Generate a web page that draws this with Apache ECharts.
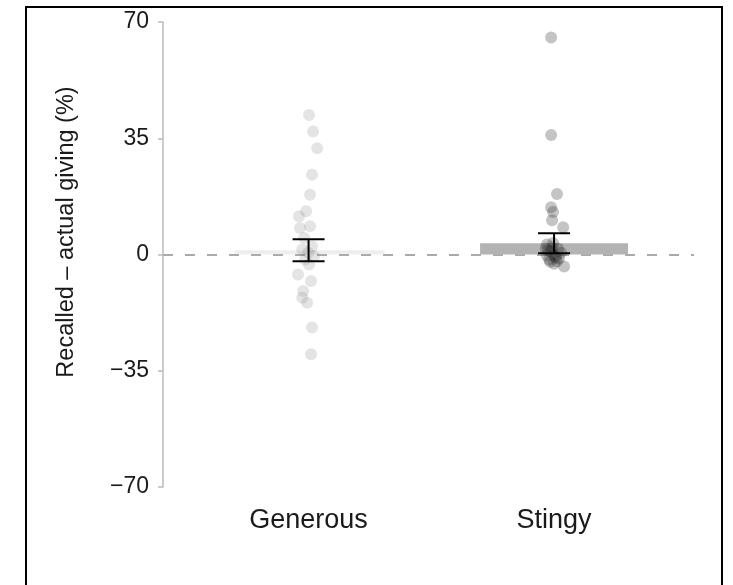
<!DOCTYPE html>
<html>
<head>
<meta charset="utf-8">
<script src="https://cdn.jsdelivr.net/npm/echarts@6/dist/echarts.min.js"></script>
<style>
  html, body { margin: 0; padding: 0; background: #fff; }
  #main { width: 733px; height: 585px; }
</style>
</head>
<body>
<div id="main"></div>
<script>
// ---------- data
var categories = ["Generous", "Stingy"];
var categoryPos = [1, 2];
var meanValues = [1.3, 3.4];
var seValues = [3.3, 3.0];
var yTicks = [-70, -35, 0, 35, 70];

// [x (with jitter), recalled - actual]
var generousPoints = [
  [1.002, 42], [1.018, 37], [1.035, 32], [1.014, 24], [1.006, 18],
  [0.990, 13], [0.961, 11.5], [0.965, 8], [1.006, 8.5], [0.982, 5],
  [1.014, 2.5], [0.974, 1.5], [0.998, 0.5], [1.022, -0.5], [0.986, -1.5],
  [1.002, -3], [0.957, -6], [1.010, -8], [0.978, -11], [0.974, -13],
  [0.994, -14.5], [1.014, -22], [1.010, -30]
];
var stingyPoints = [
  [1.988, 65.3], [1.988, 36], [2.012, 18.2], [1.988, 14.2], [1.996, 12.8],
  [1.992, 10.3], [2.037, 8.2], [1.971, 3], [1.996, 3.5], [2.016, 1.8],
  [2.028, 0.5], [1.971, -0.3], [2.004, -0.5], [1.988, 1], [1.984, -2.2],
  [2.012, -2], [2.041, -3.6], [1.996, 0], [2.008, -1], [1.980, -1.5],
  [1.992, 2], [2.000, -2.8], [1.976, 1.2], [2.020, -1.2], [1.966, 1.8]
];

onload = function () {
  var myChart = echarts.init(document.getElementById("main"));
  var font = "Liberation Sans, Arial, sans-serif";

  var barData = categoryPos.map(function (x, i) {
    return [x, meanValues[i]];
  });
  var errData = categoryPos.map(function (x, i) {
    return [x, meanValues[i] - seValues[i], meanValues[i] + seValues[i]];
  });

  var option = {
    animation: false,
    grid: { left: 163, right: 39, top: 22, bottom: 98 },
    xAxis: {
      type: "value",
      min: 0.407,
      max: 2.57,
      splitLine: { show: false },
      axisLine: { show: false },
      axisTick: { show: false },
      axisLabel: {
        customValues: categoryPos,
        formatter: function (v) {
          var i = categoryPos.indexOf(v);
          return i >= 0 ? categories[i] : "";
        },
        color: "#1a1a1a",
        fontSize: 27,
        fontFamily: font,
        margin: 20,
      },
    },
    yAxis: {
      type: "value",
      min: -70,
      max: 70,
      interval: 35,
      data: yTicks,
      splitLine: { show: false },
      axisLine: { show: true, lineStyle: { color: "#bbb", width: 1.5 } },
      axisTick: { show: true, length: 5, lineStyle: { color: "#bbb", width: 1.5 } },
      axisLabel: {
        color: "#1a1a1a",
        fontSize: 23,
        fontFamily: font,
        margin: 14,
        formatter: function (v) {
          return v < 0 ? "\u2212" + Math.abs(v) : String(v);
        },
      },
    },
    graphic: [
      {
        type: "rect",
        shape: { x: 26, y: 7, width: 696, height: 600 },
        style: { fill: "none", stroke: "#000", lineWidth: 2 },
        silent: true,
      },
      {
        type: "text",
        x: 67,
        y: 232,
        rotation: Math.PI / 2,
        style: {
          text: "Recalled \u2013 actual giving (%)",
          fill: "#1a1a1a",
          font: "23.5px " + font,
          align: "center",
          verticalAlign: "middle",
        },
        silent: true,
      },
    ],
    series: [
      {
        type: "bar",
        data: [barData[0]],
        barWidth: 150,
        itemStyle: { color: "rgba(200,200,200,0.3)" },
        z: 3,
        markLine: {
          silent: true,
          symbol: "none",
          label: { show: false },
          lineStyle: { color: "#aaa", width: 2, type: [10, 12] },
          data: [{ yAxis: 0 }],
          z: 1,
        },
      },
      {
        type: "bar",
        data: [barData[1]],
        barWidth: 148,
        barGap: "-100%",
        itemStyle: { color: "#b3b3b3" },
        z: 4,
      },
      {
        type: "scatter",
        data: generousPoints,
        symbolSize: 12,
        itemStyle: { color: "rgba(120,120,120,0.25)" },
        z: 5,
      },
      {
        type: "scatter",
        data: stingyPoints,
        symbolSize: 12,
        itemStyle: { color: "rgba(40,40,40,0.34)" },
        z: 5,
      },
      {
        type: "custom",
        data: errData,
        z: 10,
        renderItem: function (params, api) {
          var x = api.value(0);
          var lo = api.coord([x, api.value(1)]);
          var hi = api.coord([x, api.value(2)]);
          var w = 16;
          var st = { stroke: "#000", lineWidth: 2 };
          return {
            type: "group",
            children: [
              { type: "line", shape: { x1: lo[0], y1: lo[1], x2: hi[0], y2: hi[1] }, style: st },
              { type: "line", shape: { x1: lo[0] - w, y1: lo[1], x2: lo[0] + w, y2: lo[1] }, style: st },
              { type: "line", shape: { x1: hi[0] - w, y1: hi[1], x2: hi[0] + w, y2: hi[1] }, style: st },
            ],
          };
        },
      },
    ],
  };

  myChart.setOption(option);
};
</script>
</body>
</html>
